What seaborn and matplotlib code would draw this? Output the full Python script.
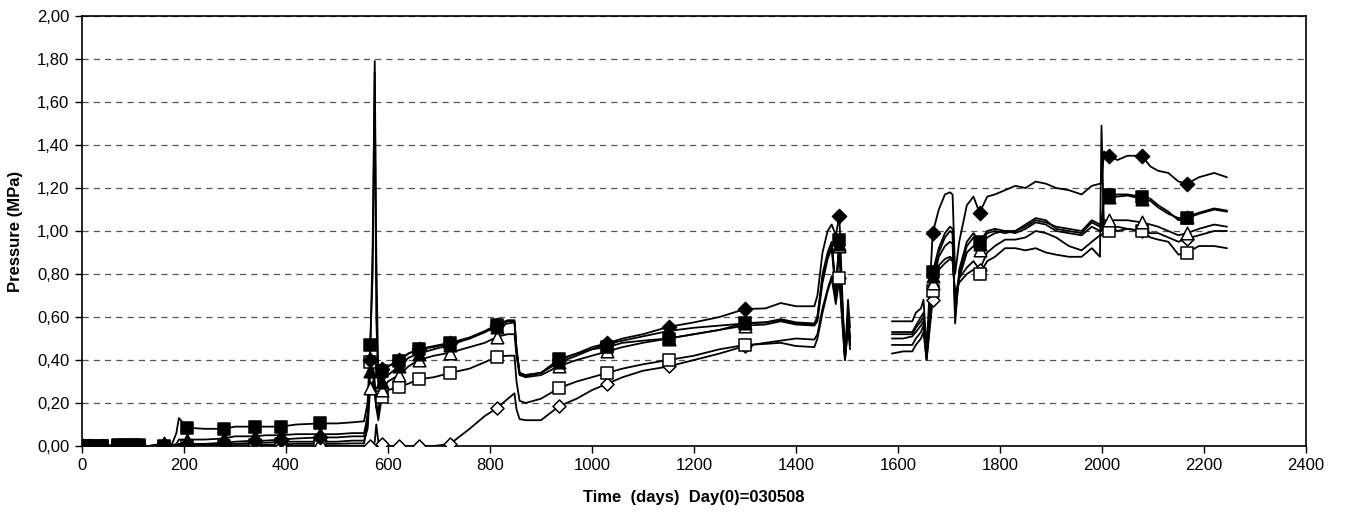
import numpy as np
import pandas as pd
import matplotlib
matplotlib.use("Agg")
import matplotlib.pyplot as plt
from matplotlib.ticker import FuncFormatter, MultipleLocator
import seaborn as sns

# ---------------------------------------------------------------- data
# Time axis (days since 030508); the logger was off between 1506 and 1588.
days_startup = [0, 2, 15, 40, 70, 85, 100, 112, 130, 160, 175, 185, 190, 206,
                240, 278, 300, 340, 360, 390, 420, 467, 500, 530, 553]
days_jump = [560, 565, 570, 574, 577, 581, 588]
days_mid = [600, 621, 640, 660, 690, 722, 760, 790, 814, 835, 848, 852, 858,
            870, 900, 936, 970, 1000, 1030, 1060, 1100, 1150, 1200, 1250,
            1300, 1340, 1370, 1400, 1436]
days_peak = [1442, 1452, 1462, 1470, 1478, 1485, 1490, 1496, 1502, 1506]
days_late = [1588, 1610, 1628, 1635, 1645, 1650, 1656, 1668, 1680, 1692, 1702,
             1707, 1712, 1720, 1735, 1748, 1760, 1775, 1790, 1810, 1830, 1850,
             1870, 1890, 1910, 1935, 1960, 1980, 1996, 1999, 2004, 2014, 2030,
             2050, 2078, 2095, 2110, 2130, 2150, 2167, 2190, 2220, 2245]
restart_day = 1550

# Days on which the readings are flagged with a symbol
mark_days = [2, 15, 40, 70, 85, 100, 112, 160, 206, 278, 340, 390, 467, 565,
             588, 621, 660, 722, 814, 936, 1030, 1150, 1300, 1485, 1668, 1760,
             2014, 2078, 2167]

# Pressure (MPa) per gauge
gauge_1 = ([0, 0, 0, 0, 0, 0, 0, 0, 0, 0.005, 0, 0, 0.01, 0.01, 0.01, 0.015,
            0.02, 0.025, 0.025, 0.03, 0.035, 0.04, 0.04, 0.045, 0.045]
           + [0.15, 0.40, 0.95, 1.79, 0.90, 0.30, 0.36]
           + [0.37, 0.40, 0.43, 0.45, 0.465, 0.48, 0.505, 0.535, 0.565, 0.585,
              0.585, 0.45, 0.34, 0.325, 0.34, 0.40, 0.43, 0.46, 0.478, 0.50,
              0.52, 0.554, 0.575, 0.60, 0.637, 0.64, 0.665, 0.65, 0.65]
           + [0.70, 0.90, 1.00, 1.03, 0.98, 1.07, 0.75, 0.40, 0.68, 0.55]
           + [0.58, 0.58, 0.58, 0.62, 0.64, 0.68, 0.45, 0.99, 1.10, 1.17, 1.18,
              1.17, 0.80, 0.95, 1.12, 1.16, 1.085, 1.16, 1.17, 1.19, 1.21,
              1.20, 1.23, 1.22, 1.20, 1.19, 1.17, 1.21, 1.22, 1.22, 1.37, 1.35,
              1.33, 1.35, 1.35, 1.30, 1.28, 1.27, 1.23, 1.22, 1.25, 1.27, 1.25])

gauge_2 = ([0, 0, 0, 0, 0.005, 0.005, 0.005, 0.005, 0, 0, 0, 0.06, 0.13, 0.085,
            0.08, 0.08, 0.09, 0.09, 0.09, 0.09, 0.10, 0.105, 0.105, 0.11, 0.115]
           + [0.20, 0.47, 0.80, 1.74, 0.60, 0.28, 0.35]
           + [0.37, 0.395, 0.43, 0.45, 0.46, 0.478, 0.50, 0.53, 0.563, 0.58,
              0.58, 0.45, 0.34, 0.33, 0.34, 0.405, 0.43, 0.45, 0.46, 0.48,
              0.49, 0.50, 0.52, 0.54, 0.572, 0.575, 0.59, 0.575, 0.57]
           + [0.60, 0.80, 0.90, 0.95, 0.72, 0.96, 0.70, 0.42, 0.62, 0.50]
           + [0.53, 0.53, 0.53, 0.56, 0.60, 0.62, 0.42, 0.81, 0.92, 0.99, 1.02,
              1.01, 0.57, 0.82, 0.95, 0.99, 0.95, 1.00, 1.01, 1.00, 1.00, 1.02,
              1.05, 1.04, 1.02, 1.01, 1.00, 1.05, 1.03, 1.03, 1.17, 1.167,
              1.17, 1.17, 1.16, 1.15, 1.12, 1.09, 1.05, 1.06, 1.08, 1.10, 1.09])

gauge_3 = ([0, 0, 0, 0, 0.005, 0.005, 0.005, 0, 0, 0.012, 0, 0.01, 0.03, 0.03,
            0.03, 0.035, 0.045, 0.045, 0.05, 0.05, 0.055, 0.055, 0.055, 0.06,
            0.06]
           + [0.12, 0.35, 0.38, 0.30, 0.20, 0.15, 0.30]
           + [0.33, 0.37, 0.41, 0.43, 0.45, 0.47, 0.50, 0.53, 0.555, 0.57,
              0.575, 0.44, 0.335, 0.33, 0.34, 0.39, 0.42, 0.45, 0.475, 0.49,
              0.51, 0.535, 0.55, 0.56, 0.57, 0.575, 0.585, 0.57, 0.565]
           + [0.60, 0.78, 0.88, 0.93, 0.74, 0.94, 0.68, 0.42, 0.60, 0.50]
           + [0.52, 0.52, 0.52, 0.55, 0.58, 0.60, 0.42, 0.79, 0.90, 0.97, 1.00,
              0.99, 0.60, 0.80, 0.93, 0.97, 0.94, 0.99, 1.00, 0.99, 1.00, 1.03,
              1.06, 1.05, 1.01, 1.00, 0.99, 1.04, 1.02, 1.02, 1.16, 1.16, 1.16,
              1.165, 1.15, 1.14, 1.11, 1.08, 1.06, 1.065, 1.085, 1.105, 1.095])

gauge_4 = ([0, 0, 0, 0, 0, 0, 0, 0, -0.005, -0.005, -0.005, 0, 0, 0, 0, 0,
            0.003, 0.005, 0.005, 0.008, 0.01, 0.01, 0.01, 0.012, 0.012]
           + [0.10, 0.39, 0.35, 0.25, 0.18, 0.12, 0.23]
           + [0.26, 0.274, 0.29, 0.31, 0.32, 0.34, 0.36, 0.39, 0.415, 0.42,
              0.42, 0.30, 0.21, 0.20, 0.22, 0.27, 0.30, 0.32, 0.34, 0.36,
              0.38, 0.40, 0.42, 0.45, 0.47, 0.475, 0.48, 0.465, 0.46]
           + [0.50, 0.62, 0.72, 0.78, 0.66, 0.78, 0.60, 0.40, 0.55, 0.45]
           + [0.47, 0.47, 0.47, 0.50, 0.53, 0.56, 0.40, 0.72, 0.84, 0.87, 0.88,
              0.87, 0.70, 0.76, 0.80, 0.82, 0.80, 0.86, 0.88, 0.92, 0.92, 0.91,
              0.92, 0.90, 0.89, 0.88, 0.88, 0.92, 0.88, 1.49, 1.00, 1.00, 1.00,
              1.01, 1.00, 0.97, 0.96, 0.95, 0.89, 0.90, 0.93, 0.93, 0.92])

gauge_5 = ([0, 0, 0, 0, 0, 0, 0, 0, 0, 0, 0, 0, 0.005, 0.005, 0.005, 0.01,
            0.01, 0.015, 0.015, 0.02, 0.02, 0.02, 0.02, 0.025, 0.025]
           + [0.08, 0.27, 0.30, 0.25, 0.18, 0.15, 0.26]
           + [0.30, 0.33, 0.37, 0.40, 0.42, 0.434, 0.46, 0.48, 0.508, 0.52,
              0.52, 0.42, 0.33, 0.32, 0.33, 0.372, 0.40, 0.42, 0.44, 0.46,
              0.48, 0.50, 0.52, 0.54, 0.56, 0.565, 0.58, 0.565, 0.56]
           + [0.58, 0.76, 0.87, 0.92, 0.70, 0.93, 0.66, 0.41, 0.58, 0.48]
           + [0.50, 0.50, 0.51, 0.53, 0.56, 0.58, 0.41, 0.76, 0.88, 0.93, 0.95,
              0.94, 0.65, 0.78, 0.90, 0.93, 0.91, 0.97, 0.99, 1.00, 0.99, 1.01,
              1.04, 1.03, 1.00, 0.99, 0.98, 1.02, 1.00, 1.00, 1.05, 1.05, 1.05,
              1.05, 1.04, 1.03, 1.02, 1.00, 0.98, 0.99, 1.01, 1.03, 1.02])

gauge_6 = ([0] * 25
           + [0, 0, 0, 0.02, 0.10, 0.02, 0.01]
           + [0.0, 0.0, 0.0, 0.0, 0.0, 0.01, 0.08, 0.14, 0.176, 0.22, 0.245,
              0.17, 0.125, 0.12, 0.12, 0.186, 0.22, 0.26, 0.29, 0.32, 0.35,
              0.37, 0.40, 0.43, 0.465, 0.48, 0.49, 0.50, 0.495]
           + [0.52, 0.64, 0.73, 0.79, 0.68, 0.78, 0.62, 0.40, 0.56, 0.47]
           + [0.43, 0.44, 0.44, 0.47, 0.50, 0.53, 0.40, 0.68, 0.82, 0.85, 0.87,
              0.86, 0.70, 0.78, 0.83, 0.86, 0.82, 0.90, 0.93, 0.96, 0.96, 0.97,
              1.00, 0.99, 0.97, 0.93, 0.91, 0.95, 0.98, 0.98, 1.00, 1.01, 1.02,
              1.01, 1.00, 0.99, 0.99, 0.97, 0.95, 0.965, 0.98, 1.00, 1.00])

# ---------------------------------------------------------------- frame
days = days_startup + days_jump + days_mid + days_peak + days_late
# (name, values, marker, filled, marker area) -- drawn bottom to top
gauges = [
    ("g6", gauge_6, "D", False, 44),
    ("g4", gauge_4, "s", False, 82),
    ("g5", gauge_5, "^", False, 82),
    ("g3", gauge_3, "^", True, 82),
    ("g2", gauge_2, "s", True, 82),
    ("g1", gauge_1, "D", True, 52),
]

frames = []
for name, vals, *_ in gauges:
    d = pd.DataFrame({"day": days, "pressure": vals})
    d["gauge"] = name
    d["run"] = (d["day"] > restart_day).astype(int)
    frames.append(d)
df = pd.concat(frames, ignore_index=True)

# ---------------------------------------------------------------- plot
sns.set_theme(style="white")
plt.rcParams["font.family"] = ["Liberation Sans", "DejaVu Sans"]
plt.rcParams["text.color"] = "black"
plt.rcParams["axes.labelcolor"] = "black"

fig = plt.figure(figsize=(13.46, 5.18), dpi=100)
ax = fig.add_axes([82 / 1346, 1 - 446 / 518, 1224 / 1346, 430 / 518])

for name, vals, marker, filled, size in gauges:
    sub = df[df["gauge"] == name]
    sns.lineplot(data=sub, x="day", y="pressure", units="run",
                 estimator=None, sort=False, color="black", linewidth=1.3,
                 ax=ax, legend=False, zorder=2)

for name, vals, marker, filled, size in gauges:
    sub = df[(df["gauge"] == name) & (df["day"].isin(mark_days))]
    sns.scatterplot(data=sub, x="day", y="pressure", marker=marker, s=size,
                    color="black" if filled else "white", edgecolor="black",
                    linewidth=1.1, ax=ax, legend=False, zorder=3)

ax.set_xlim(0, 2400)
ax.set_ylim(0, 2.0)
ax.xaxis.set_major_locator(MultipleLocator(200))
ax.yaxis.set_major_locator(MultipleLocator(0.2))
ax.yaxis.set_major_formatter(FuncFormatter(lambda v, p: f"{v:.2f}".replace(".", ",")))

ax.grid(axis="y", color="#555555", linestyle=(0, (5, 4)), linewidth=0.9)
ax.grid(axis="x", visible=False)
ax.set_axisbelow(True)
for sp in ax.spines.values():
    sp.set_color("black")
    sp.set_linewidth(1.2)
    sp.set_visible(True)

ax.tick_params(axis="both", which="major", direction="out", length=5,
               width=1, color="black", labelsize=12, labelcolor="black",
               bottom=True, left=True, pad=4)

ax.set_xlabel("Time  (days)  Day(0)=030508", fontsize=12, fontweight="bold",
              labelpad=12)
ax.set_ylabel("Pressure (MPa)", fontsize=12, fontweight="bold", labelpad=10)

fig.savefig("out.png", dpi=100)
